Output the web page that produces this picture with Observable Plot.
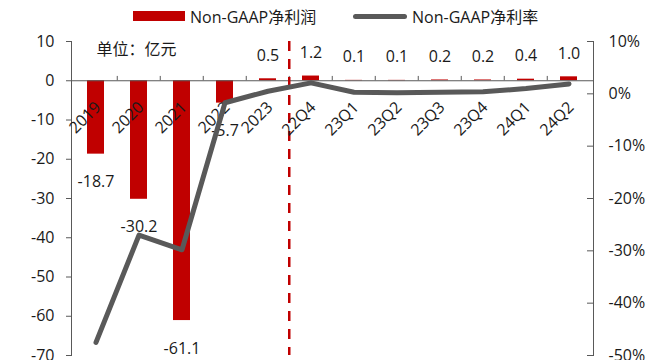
<!DOCTYPE html>
<html><head><meta charset="utf-8">
<script src="https://cdn.jsdelivr.net/npm/d3@7"></script>
<script src="https://cdn.jsdelivr.net/npm/@observablehq/plot@0.6"></script>
<style>
body{margin:0;background:#fff;font-family:"Open Sans","Noto Sans CJK SC",sans-serif;color:#1a1a1a}
#legend{position:relative;height:30px;width:651px;font-size:16px}
.item{position:absolute;top:0;height:32px;display:flex;align-items:center;white-space:nowrap}
.sw-bar{display:inline-block;width:52px;height:10px;background:#C00000;margin-right:5px}
.sw-line{display:inline-block;width:54px;height:5px;border-radius:3px;background:#595959;margin-right:5px}
</style></head><body>
<div id="legend">
 <div class="item" style="left:133px"><span class="sw-bar"></span><span>Non-GAAP净利润</span></div>
 <div class="item" style="left:353px"><span class="sw-line"></span><span>Non-GAAP净利率</span></div>
</div>
<div id="chart"></div>
<script>
const categories = ["2019","2020","2021","2022","2023","22Q4","23Q1","23Q2","23Q3","23Q4","24Q1","24Q2"];
const profit = [-18.7,-30.2,-61.1,-5.7,0.5,1.2,0.1,0.1,0.2,0.2,0.4,1.0];
const marginPct = [-47.5,-27.0,-29.8,-1.7,0.5,2.1,0.3,0.2,0.3,0.4,1.0,1.9];
const leftTicks = [10,0,-10,-20,-30,-40,-50,-60,-70];
const rightTicks = [10,0,-10,-20,-30,-40,-50];
const unitLabel = "单位：亿元";
const dividerAt = "22Q4";

const W = 651, H = 330, mL = 71, mR = 58, mT = 11, mB = 5;
const step = (W - mL - mR) / categories.length;
// map right-axis percent [-50,10] onto left-axis units [-70,10]
const toLeft = p => (p - 10) * (80 / 60) + 10;
const fromLeft = v => (v - 10) * (60 / 80) + 10;
const data = categories.map((c, i) => ({c, v: profit[i], m: toLeft(marginPct[i])}));
const axisColor = "#595959";

const chart = Plot.plot({
  width: W, height: H,
  marginLeft: mL, marginRight: mR, marginTop: mT, marginBottom: mB,
  style: {fontFamily: '"Open Sans","Noto Sans CJK SC",sans-serif', fontSize: "16px", color: "#1a1a1a", background: "#fff", overflow: "visible"},
  x: {domain: categories, paddingInner: 0.6, paddingOuter: 0.3, axis: null},
  y: {domain: [-70, 10], axis: null},
  marks: [
    Plot.barY(data, {x: "c", y: "v", fill: "#C00000"}),
    Plot.ruleY([0], {stroke: axisColor}),
    Plot.ruleX(categories.slice(1), {x: d => d, y1: 0, y2: 1.1, dx: -step / 2, stroke: axisColor}),
    Plot.frame({anchor: "left", stroke: axisColor}),
    Plot.frame({anchor: "right", stroke: axisColor}),
    Plot.axisY(leftTicks, {anchor: "left", tickSize: 5, tickPadding: 12, stroke: axisColor, tickFormat: d => String(d)}),
    Plot.axisY(rightTicks.map(toLeft), {anchor: "right", tickSize: 0, tickPadding: 15, tickFormat: d => Math.round(fromLeft(d)) + "%"}),
    Plot.tickY(rightTicks.map(toLeft), {y: d => d, insetLeft: W - mL - mR - 6, stroke: axisColor}),
    Plot.ruleX([dividerAt], {x: d => d, dx: -step / 2, stroke: "#C00000", strokeWidth: 2.5, strokeDasharray: "10,8"}),
    Plot.text([unitLabel], {frameAnchor: "top-left", dx: 25, dy: 2, textAnchor: "start"}),
    Plot.text(data.filter(d => d.v < 0), {x: "c", y: "v", text: d => d.v.toFixed(1), dy: 28}),
    Plot.text(data.filter(d => d.v >= 0), {x: "c", y: "v", text: d => d.v.toFixed(1), dy: -23}),
    Plot.text(categories, {x: d => d, y: 0, text: d => d, rotate: -45, textAnchor: "end", dx: 2, dy: 24}),
    Plot.line(data, {x: "c", y: "m", stroke: "#595959", strokeWidth: 5, strokeLinejoin: "round", strokeLinecap: "round"})
  ]
});
document.getElementById("chart").appendChild(chart);
</script>
</body></html>
